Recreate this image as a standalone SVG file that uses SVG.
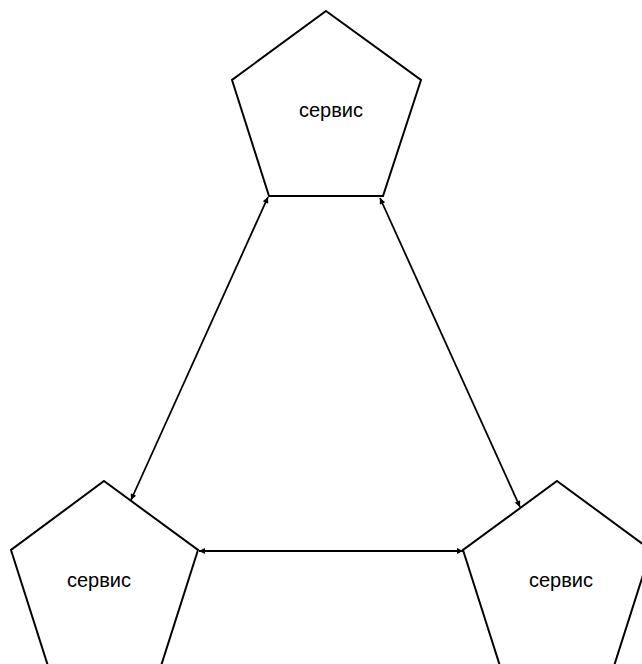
<svg xmlns="http://www.w3.org/2000/svg" width="642" height="664" viewBox="0 0 642 664">
<style>
.node polygon{fill:#fff;stroke:#000;stroke-width:2;stroke-linejoin:miter}
.node text{font-family:"Liberation Sans",Arial,sans-serif;font-size:20px;fill:#000;text-anchor:middle}
.edges line{stroke:#000;stroke-width:1.8;marker-start:url(#arr);marker-end:url(#arr)}
</style>
<defs>
<marker id="arr" viewBox="0 0 10 10" refX="10" refY="5" markerWidth="9" markerHeight="6" markerUnits="userSpaceOnUse" orient="auto-start-reverse">
<path d="M0,0 L10,5 L0,10 z" fill="#000"/>
</marker>
</defs>
<rect width="642" height="664" fill="#fff"/>
<g id="node-top" class="node">
<polygon points="326,11 421,80 383,196 269,196 232,80"/>
<text x="331" y="117">сервис</text>
</g>
<g id="node-left" class="node">
<polygon points="104,481 198,550 161,666 48,666 11,550"/>
<text x="99" y="587">сервис</text>
</g>
<g id="node-right" class="node">
<polygon points="557,481 651,550 614,666 500,666 463,550"/>
<text x="561" y="587">сервис</text>
</g>
<g id="edges" class="edges">
<line x1="268" y1="197" x2="131" y2="500"/>
<line x1="380" y1="198" x2="520" y2="507"/>
<line x1="199" y1="551" x2="463" y2="551"/>
</g>
</svg>
